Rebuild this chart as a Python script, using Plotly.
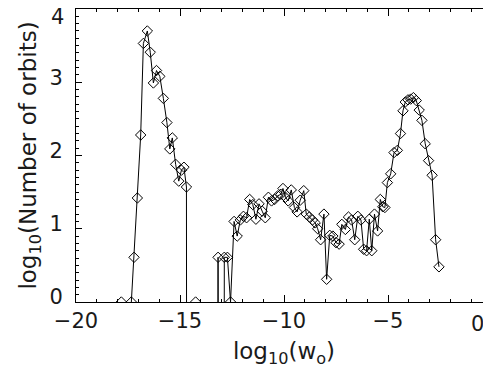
import numpy as np
import plotly.graph_objects as go

NEG_INF = float("-inf")  # empty bins: log10(0)

# bin centres, log10(w_o)
log_w = [
    -17.82, -17.67, -17.50, -17.34, -17.21, -17.05, -16.89, -16.76, -16.57, -16.43,
    -16.28, -16.13, -15.97, -15.80, -15.63, -15.49, -15.37, -15.21, -15.06, -14.93,
    -14.81, -14.69, -14.55, -14.40, -14.25, -14.10, -13.32, -13.17, -13.02, -12.87,
    -12.72, -12.57, -12.40, -12.25, -12.10, -11.95, -11.80, -11.65, -11.50, -11.35,
    -11.20, -11.05, -10.90, -10.75, -10.60, -10.45, -10.30, -10.15, -10.05, -9.93,
    -9.80, -9.65, -9.50, -9.37, -9.22, -9.05, -8.93, -8.78, -8.63, -8.50,
    -8.38, -8.24, -8.08, -7.95, -7.80, -7.65, -7.50, -7.35, -7.22, -7.05,
    -6.90, -6.75, -6.60, -6.45, -6.30, -6.17, -6.03, -5.90, -5.78, -5.65,
    -5.50, -5.37, -5.25, -5.15, -5.03, -4.87, -4.71, -4.55, -4.40, -4.28,
    -4.17, -4.04, -3.91, -3.78, -3.64, -3.50, -3.37, -3.21, -3.05, -2.88,
    -2.71, -2.55,
]

# log10(number of orbits) per bin
log_n = [
    0.00, NEG_INF, NEG_INF, 0.00, 0.61, 1.42, 2.28, 3.53, 3.70, 3.41,
    2.99, 3.16, 3.08, 2.78, 2.45, 2.09, 2.24, 1.88, 1.65, 1.80,
    1.84, 1.57, NEG_INF, NEG_INF, 0.00, NEG_INF, NEG_INF, 0.61, NEG_INF, 0.61,
    0.61, 0.00, 1.10, 0.90, 1.12, 1.17, 1.15, 1.40, 1.33, 1.13,
    1.34, 1.24, 1.15, 1.43, 1.38, 1.40, 1.45, 1.47, 1.55, 1.43,
    1.38, 1.53, 1.29, 1.23, 1.39, 1.52, 1.20, 1.16, 1.12, 1.08,
    1.00, 0.85, 1.20, 0.31, 0.91, 0.90, 0.81, 0.79, 1.06, 0.99,
    1.16, 1.12, 0.85, 1.17, 1.12, 0.72, 0.70, 1.13, 0.70, 1.20,
    0.97, 1.40, 1.30, 1.29, 1.63, 1.75, 2.04, 2.07, 2.30, 2.61,
    2.73, 2.76, 2.77, 2.79, 2.75, 2.62, 2.48, 2.16, 1.93, 1.73,
    0.85, 0.48,
]

y_ticks = [0, 1, 2, 3, 4]
x_ticks = [-20, -15, -10, -5, 0]

# -inf drawn far below the axis so the line drops straight down, like IDL
y_plot = np.where(np.isinf(log_n), -100.0, log_n)

FONT = "DejaVu Sans"
INK = "#1a1a1a"
TICK_SIZE = 21
TITLE_SIZE = 23

fig = go.Figure()
fig.add_trace(
    go.Scatter(
        x=log_w,
        y=y_plot,
        mode="lines+markers",
        line=dict(color="black", width=1),
        marker=dict(symbol="diamond-open", size=8, color="black", line=dict(width=1)),
        showlegend=False,
        cliponaxis=True,
    )
)

axis_common = dict(
    showline=True,
    linecolor="black",
    linewidth=1,
    mirror="allticks",
    ticks="inside",
    tickcolor="black",
    showgrid=False,
    zeroline=False,
    automargin=False,
    tickfont=dict(family=FONT, size=TICK_SIZE, color=INK),
)

# the end labels (x = 0, y = 4) sit against the page edge, so they are placed by hand
fig.update_xaxes(
    **axis_common,
    range=[x_ticks[0], x_ticks[-1]],
    tickvals=x_ticks,
    ticktext=[f"\u2212{-v}" if v < 0 else "" for v in x_ticks],
    ticklen=7,
    minor=dict(dtick=1, ticks="inside", ticklen=3, tickcolor="black"),
    title=dict(text="log<sub>10</sub>(w<sub>o</sub>)", font=dict(family=FONT, size=TITLE_SIZE, color=INK), standoff=10),
)
fig.update_yaxes(
    **axis_common,
    range=[y_ticks[0], y_ticks[-1]],
    tickvals=y_ticks,
    ticktext=[str(v) if v < 4 else "" for v in y_ticks],
    ticklen=6,
    ticklabelstandoff=8,
    ticklabelshift=-5,
    minor=dict(dtick=0.1, ticks="inside", ticklen=3, tickcolor="black"),
    title=dict(text="log<sub>10</sub>(Number of orbits)", font=dict(family=FONT, size=TITLE_SIZE, color=INK), standoff=6),
)

fig.add_annotation(
    x=0, xref="paper", xanchor="right", xshift=-10,
    y=1, yref="paper", yanchor="top", yshift=6,
    text=str(y_ticks[-1]), showarrow=False,
    font=dict(family=FONT, size=TICK_SIZE, color=INK),
)
fig.add_annotation(
    x=1, xref="paper", xanchor="right", xshift=-6,
    y=0, yref="paper", yanchor="top", yshift=-8,
    text=str(x_ticks[-1]), showarrow=False,
    font=dict(family=FONT, size=TICK_SIZE, color=INK),
)

fig.update_layout(
    width=491,
    height=366,
    margin=dict(l=68, r=7, t=1, b=72),
    paper_bgcolor="white",
    plot_bgcolor="white",
)

fig.write_html("out.html")
